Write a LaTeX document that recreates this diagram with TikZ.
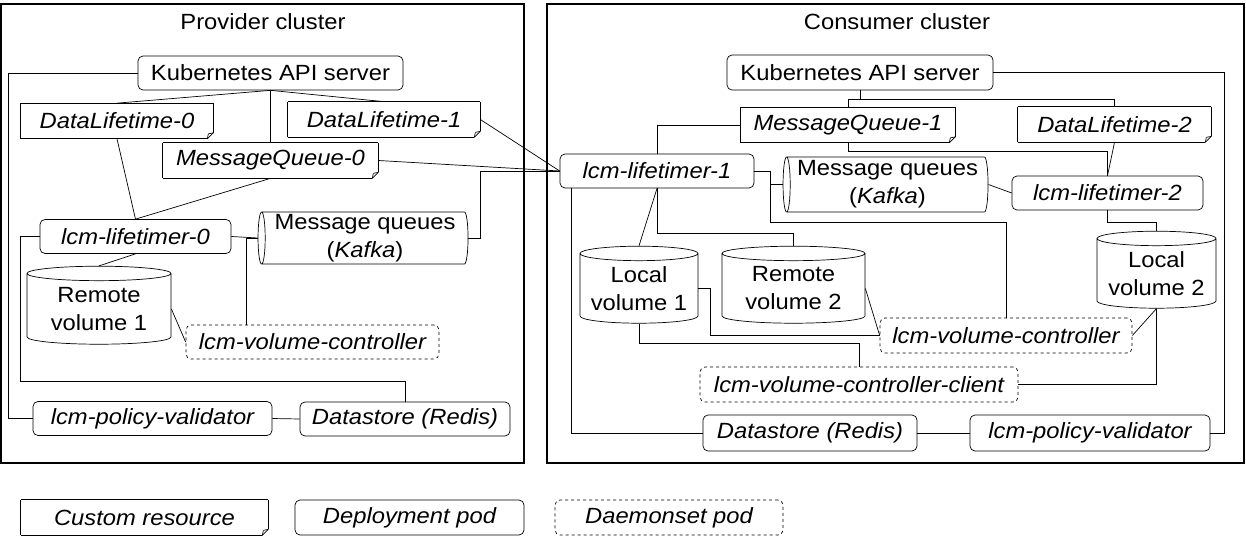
\documentclass[tikz,border=0pt]{standalone}
\usepackage{fontspec}
\setmainfont{Liberation Sans}[FakeStretch=1.08]
\usepackage{tikz}
\usetikzlibrary{shapes.geometric}

\begin{document}
\fontsize{22}{28}\selectfont
\begin{tikzpicture}[x=1pt,y=-1pt,line width=0.7pt,
    cluster/.style={draw,line width=1.8pt},
    pod/.style={draw,rounded corners=5pt,font=\itshape,minimum height=34pt,inner sep=0pt},
    dspod/.style={pod,dashed},
    crd/.style={font=\itshape,minimum height=35pt,inner sep=0pt,
        append after command={
            (\tikzlastnode.north west) edge (\tikzlastnode.north east)
            (\tikzlastnode.north east) edge ([yshift=6pt]\tikzlastnode.south east)
            ([yshift=6pt]\tikzlastnode.south east) edge ([xshift=-6pt]\tikzlastnode.south east)
            ([xshift=-6pt]\tikzlastnode.south east) edge (\tikzlastnode.south west)
            (\tikzlastnode.south west) edge (\tikzlastnode.north west)
            ([yshift=6pt]\tikzlastnode.south east) edge ([xshift=-5pt,yshift=5pt]\tikzlastnode.south east)
            ([xshift=-5pt,yshift=5pt]\tikzlastnode.south east) edge ([xshift=-6pt]\tikzlastnode.south east)}},
    vol/.style={draw,cylinder,shape border rotate=90,aspect=0.15,align=center,inner sep=0pt},
    queue/.style={draw,cylinder,shape border rotate=180,aspect=0.15,align=center,inner sep=0pt}]
    \useasboundingbox (0,0) rectangle (1246,545);

    % provider side
    \draw[cluster] (1,4) rectangle (524,463);
    \node (provtitle) at (263,22){Provider cluster};
    \node[draw,rounded corners=5pt,minimum width=265pt,minimum height=34pt,inner sep=0pt] (kapi0) at (270.5,73){Kubernetes API server};
    \node[crd,minimum width=192pt] (dlt0) at (117,121){DataLifetime-0};
    \node[crd,minimum width=192pt] (dlt1) at (384,119.5){DataLifetime-1};
    \node[crd,minimum width=215pt] (mq0) at (270.5,160.5){MessageQueue-0};
    \node[pod,minimum width=191pt] (lt0) at (135.5,236.5){lcm-lifetimer-0};
    \node[queue,minimum width=52pt,minimum height=210pt] (kafka0) at (365,238){Message queues\\(\textit{Kafka})};
    \node[vol,minimum width=144pt,minimum height=78pt] (rvol1) at (99,309){Remote\\volume 1};
    \node[dspod,minimum width=253pt] (vc0) at (312.5,342){lcm-volume-controller};
    \node[pod,minimum width=239pt] (pv0) at (152.5,418.5){lcm-policy-validator};
    \node[pod,minimum width=210pt] (ds0) at (405,419){Datastore (Redis)};

    % consumer side
    \draw[cluster] (547,4) rectangle (1244,463);
    \node (constitle) at (897,22){Consumer cluster};
    \node[draw,rounded corners=5pt,minimum width=266pt,minimum height=35pt,inner sep=0pt] (kapi1) at (860,72.5){Kubernetes API server};
    \node[crd,minimum width=214pt] (mq1) at (848,125){MessageQueue-1};
    \node[crd,minimum width=193pt] (dlt2) at (1114.5,124.5){DataLifetime-2};
    \node[pod,minimum width=194pt] (lt1) at (657,171){lcm-lifetimer-1};
    \node[queue,minimum width=55pt,minimum height=205pt] (kafka1) at (887.5,184.5){Message queues\\(\textit{Kafka})};
    \node[pod,minimum width=191pt] (lt2) at (1107.5,193){lcm-lifetimer-2};
    \node[vol,minimum width=118pt,minimum height=77pt] (lvol1) at (639,288.5){Local\\volume 1};
    \node[vol,minimum width=143pt,minimum height=77pt] (rvol2) at (793.5,288.5){Remote\\volume 2};
    \node[vol,minimum width=119pt,minimum height=77pt] (lvol2) at (1156.5,273.5){Local\\volume 2};
    \node[dspod,minimum width=252pt,minimum height=35pt] (vc1) at (1006,335.5){lcm-volume-controller};
    \node[dspod,minimum width=318pt,minimum height=35pt] (vcc) at (859,384.5){lcm-volume-controller-client};
    \node[pod,minimum width=214pt,minimum height=36pt] (ds1) at (810,433){Datastore (Redis)};
    \node[pod,minimum width=240pt,minimum height=36pt] (pv1) at (1090,433){lcm-policy-validator};

    % legend
    \node[crd,minimum width=247pt] (legcr) at (144.5,517.5){Custom resource};
    \node[pod,minimum width=229pt,minimum height=35pt] (legdep) at (409.5,517.5){Deployment pod};
    \node[dspod,minimum width=228pt,minimum height=35pt] (legds) at (669,517.5){Daemonset pod};

    % provider links
    \draw (kapi0.west) -- ++(-129,0) |- (pv0.west);
    \draw (kapi0.south) -- (dlt0.north);
    \draw (kapi0.south) -- (dlt1.north);
    \draw (kapi0.south) -- (mq0.north);
    \draw (dlt0.south) -- (lt0.north);
    \draw (mq0.south) -- (lt0.north);
    \draw (mq0.east) -- (lt1.west);
    \draw (dlt1.east) -- (lt1.west);
    \draw (kafka0.east) -- ++(12,0) |- (lt1.west);
    \draw (lt0.east) -- (kafka0.west);
    \coordinate (vc0in) at (246,325);
    \draw (kafka0.west) -| (vc0in);
    \draw (lt0.south) -- (rvol1.north);
    \draw (rvol1.east) -- (vc0.west);
    \draw (lt0.west) -- ++(-19,0) |- ([yshift=20pt]ds0.north) -- (ds0.north);
    \draw (pv0.east) -- (ds0.west);

    % consumer links
    \draw (kapi1.east) -| ([xshift=14pt]pv1.east) -- (pv1.east);
    \draw (kapi1.south) -- ++(0,9);
    \draw (mq1.north) -- ++(0,-8) -| (dlt2.north);
    \draw (mq1.west) -| (lt1.north);
    \draw (mq1.south) -- ++(0,9) -| (lt2.north);
    \draw (dlt2.south) -- (lt2.north);
    \draw (kafka1.east) -- (lt2.west);
    \draw (lt1.east) -- ++(16,0) |- (kafka1.west);
    \draw (lt1.east) -- ++(16,0) |- ([yshift=95pt]vc1.north) -- (vc1.north);
    \draw (lt2.south) -- ++(0,12) -| (lvol2.north);
    \draw ([xshift=12pt]lt1.south west) |- (ds1.west);
    \draw (lt1.south) -- (lvol1.north);
    \draw (lt1.south) -- ++(0,45) -| (rvol2.north);
    \draw (lvol1.east) -- ++(12,0) |- (vc1.west);
    \draw (rvol2.east) -- (vc1.west);
    \draw (lvol1.south) -- ++(0,20) -| (vcc.north);
    \draw (lvol2.south) -- (vc1.east);
    \draw (vcc.east) -| (lvol2.south);
    \draw (ds1.east) -- (pv1.west);
\end{tikzpicture}
\end{document}
